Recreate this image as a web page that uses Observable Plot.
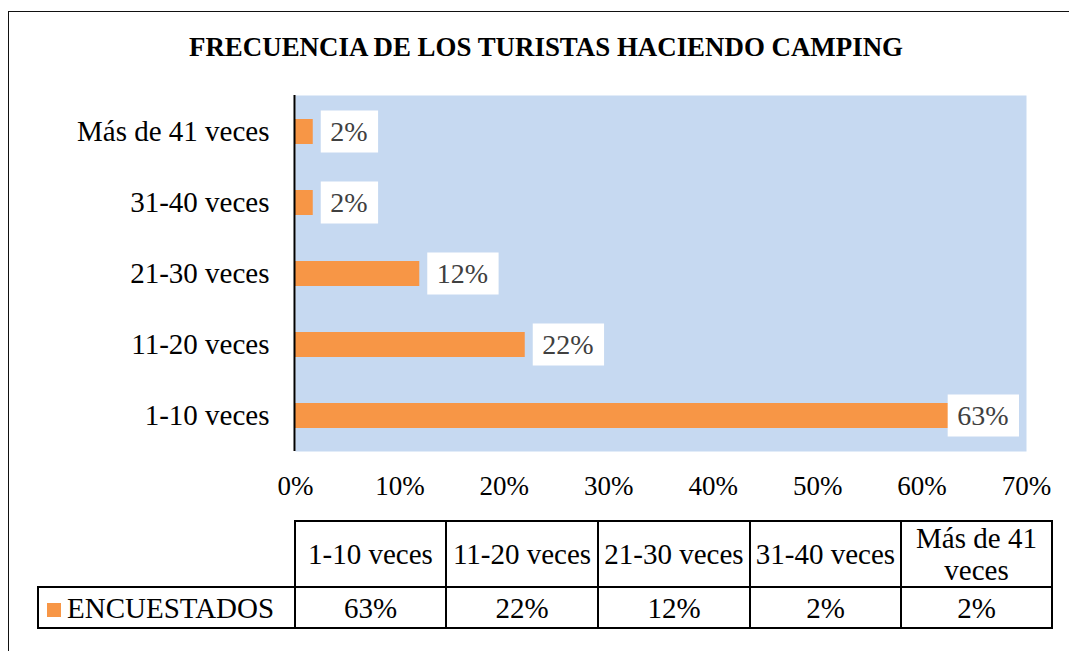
<!DOCTYPE html>
<html><head><meta charset="utf-8">
<script src="https://cdn.jsdelivr.net/npm/d3@7"></script>
<script src="https://cdn.jsdelivr.net/npm/@observablehq/plot@0.6"></script>
<style>
html,body{margin:0;padding:0;background:#fff;overflow:hidden;}
#wrap{position:relative;width:1069px;height:651px;overflow:hidden;font-family:"Liberation Serif","Times New Roman",serif;color:#000;}
#chart{position:absolute;left:0;top:0;}
#frame{position:absolute;left:8px;top:11px;width:1200px;height:800px;border:1.5px solid #111;box-sizing:border-box;pointer-events:none;}
#title{position:absolute;left:8px;width:1076px;top:34px;text-align:center;font-weight:bold;font-size:26.9px;line-height:1;white-space:nowrap;}
#tbl{position:absolute;left:37px;top:520px;border-collapse:collapse;table-layout:fixed;width:1016px;font-size:29px;}
#tbl td{border:2px solid #000;text-align:center;vertical-align:middle;padding:0;line-height:32px;}
#tbl td.empty{border-top:none;border-left:none;}
#tbl td.legend{text-align:left;padding-left:8px;white-space:nowrap;}
#tbl .sw{display:inline-block;width:14px;height:14px;margin-right:6px;vertical-align:1px;}
</style></head>
<body><div id="wrap"><div id="chart"></div><div id="frame"></div><div id="title"></div><table id="tbl"></table></div>
<script>
const title = "FRECUENCIA DE LOS TURISTAS HACIENDO CAMPING";
const categories = ["1-10 veces", "11-20 veces", "21-30 veces", "31-40 veces", "Más de 41 veces"];
const values = [0.627, 0.220, 0.119, 0.017, 0.017];
const seriesName = "ENCUESTADOS";
const xTicks = [0, 0.1, 0.2, 0.3, 0.4, 0.5, 0.6, 0.7];

const barColor = "#F79646";
const plotBg = "#C6D9F1";
const fmt = d3.format(".0%");
const data = categories.map((c, i) => ({cat: c, value: values[i], label: fmt(values[i])}));

document.getElementById("title").textContent = title;

const labelSize = 28;
const ctx = document.createElement("canvas").getContext("2d");
ctx.font = `${labelSize}px "Liberation Serif"`;

function boxedLabels(index, scales, vals, dims, context, next) {
  const right = dims.width - dims.marginRight;
  const off = scales.y && scales.y.bandwidth ? scales.y.bandwidth() / 2 : 0;
  const X = Float64Array.from(vals.x);
  const boxes = [];
  for (const i of index) {
    const w = ctx.measureText(data[i].label).width + 20;
    let x0 = vals.x[i] + 8;
    if (x0 + w > right - 7) x0 = right - 7 - w;
    X[i] = x0 + w / 2 - 1;
    boxes.push({x: x0, y: vals.y[i] + off, w});
  }
  const g = d3.create("svg:g");
  for (const b of boxes) {
    g.append("rect").attr("x", b.x).attr("y", b.y - 21).attr("width", b.w).attr("height", 42).attr("fill", "white");
  }
  const t = next(index, scales, {...vals, x: X}, dims, context);
  g.append(() => t);
  return g.node();
}

const chart = Plot.plot({
  width: 1069,
  height: 520,
  marginLeft: 295,
  marginRight: 43,
  marginTop: 95,
  marginBottom: 69,
  style: {fontFamily: "'Liberation Serif', 'Times New Roman', serif", fontSize: "27px", color: "#000", background: "transparent", overflow: "visible"},
  x: {domain: [0, 0.7]},
  y: {domain: categories.slice().reverse(), paddingInner: 0.65, paddingOuter: 0.325},
  marks: [
    Plot.frame({fill: plotBg}),
    Plot.barX(data, {x: "value", y: "cat", fill: barColor}),
    Plot.ruleX([0], {stroke: "#000", strokeWidth: 2, dx: -1}),
    Plot.text(data, {x: "value", y: "cat", text: "label", fill: "#404040", fontSize: labelSize, textAnchor: "middle", render: boxedLabels}),
    Plot.axisY({tickSize: 0, tickPadding: 26, fontSize: 29, label: null}),
    Plot.axisX({ticks: xTicks, tickFormat: fmt, tickSize: 0, tickPadding: 24, fontSize: 27, label: null})
  ]
});
document.getElementById("chart").appendChild(chart);

// data table below the chart
const tbl = d3.select("#tbl");
const cg = tbl.append("colgroup");
[257, 151, 152, 152, 151, 151].forEach(w => cg.append("col").style("width", w + "px"));
const r1 = tbl.append("tr").style("height", "66px");
r1.append("td").attr("class", "empty");
categories.forEach(c => r1.append("td").text(c));
const r2 = tbl.append("tr").style("height", "41px");
const lg = r2.append("td").attr("class", "legend");
lg.append("span").attr("class", "sw").style("background", barColor);
lg.append("span").text(seriesName);
values.forEach(v => r2.append("td").text(fmt(v)));
</script>
</body></html>
